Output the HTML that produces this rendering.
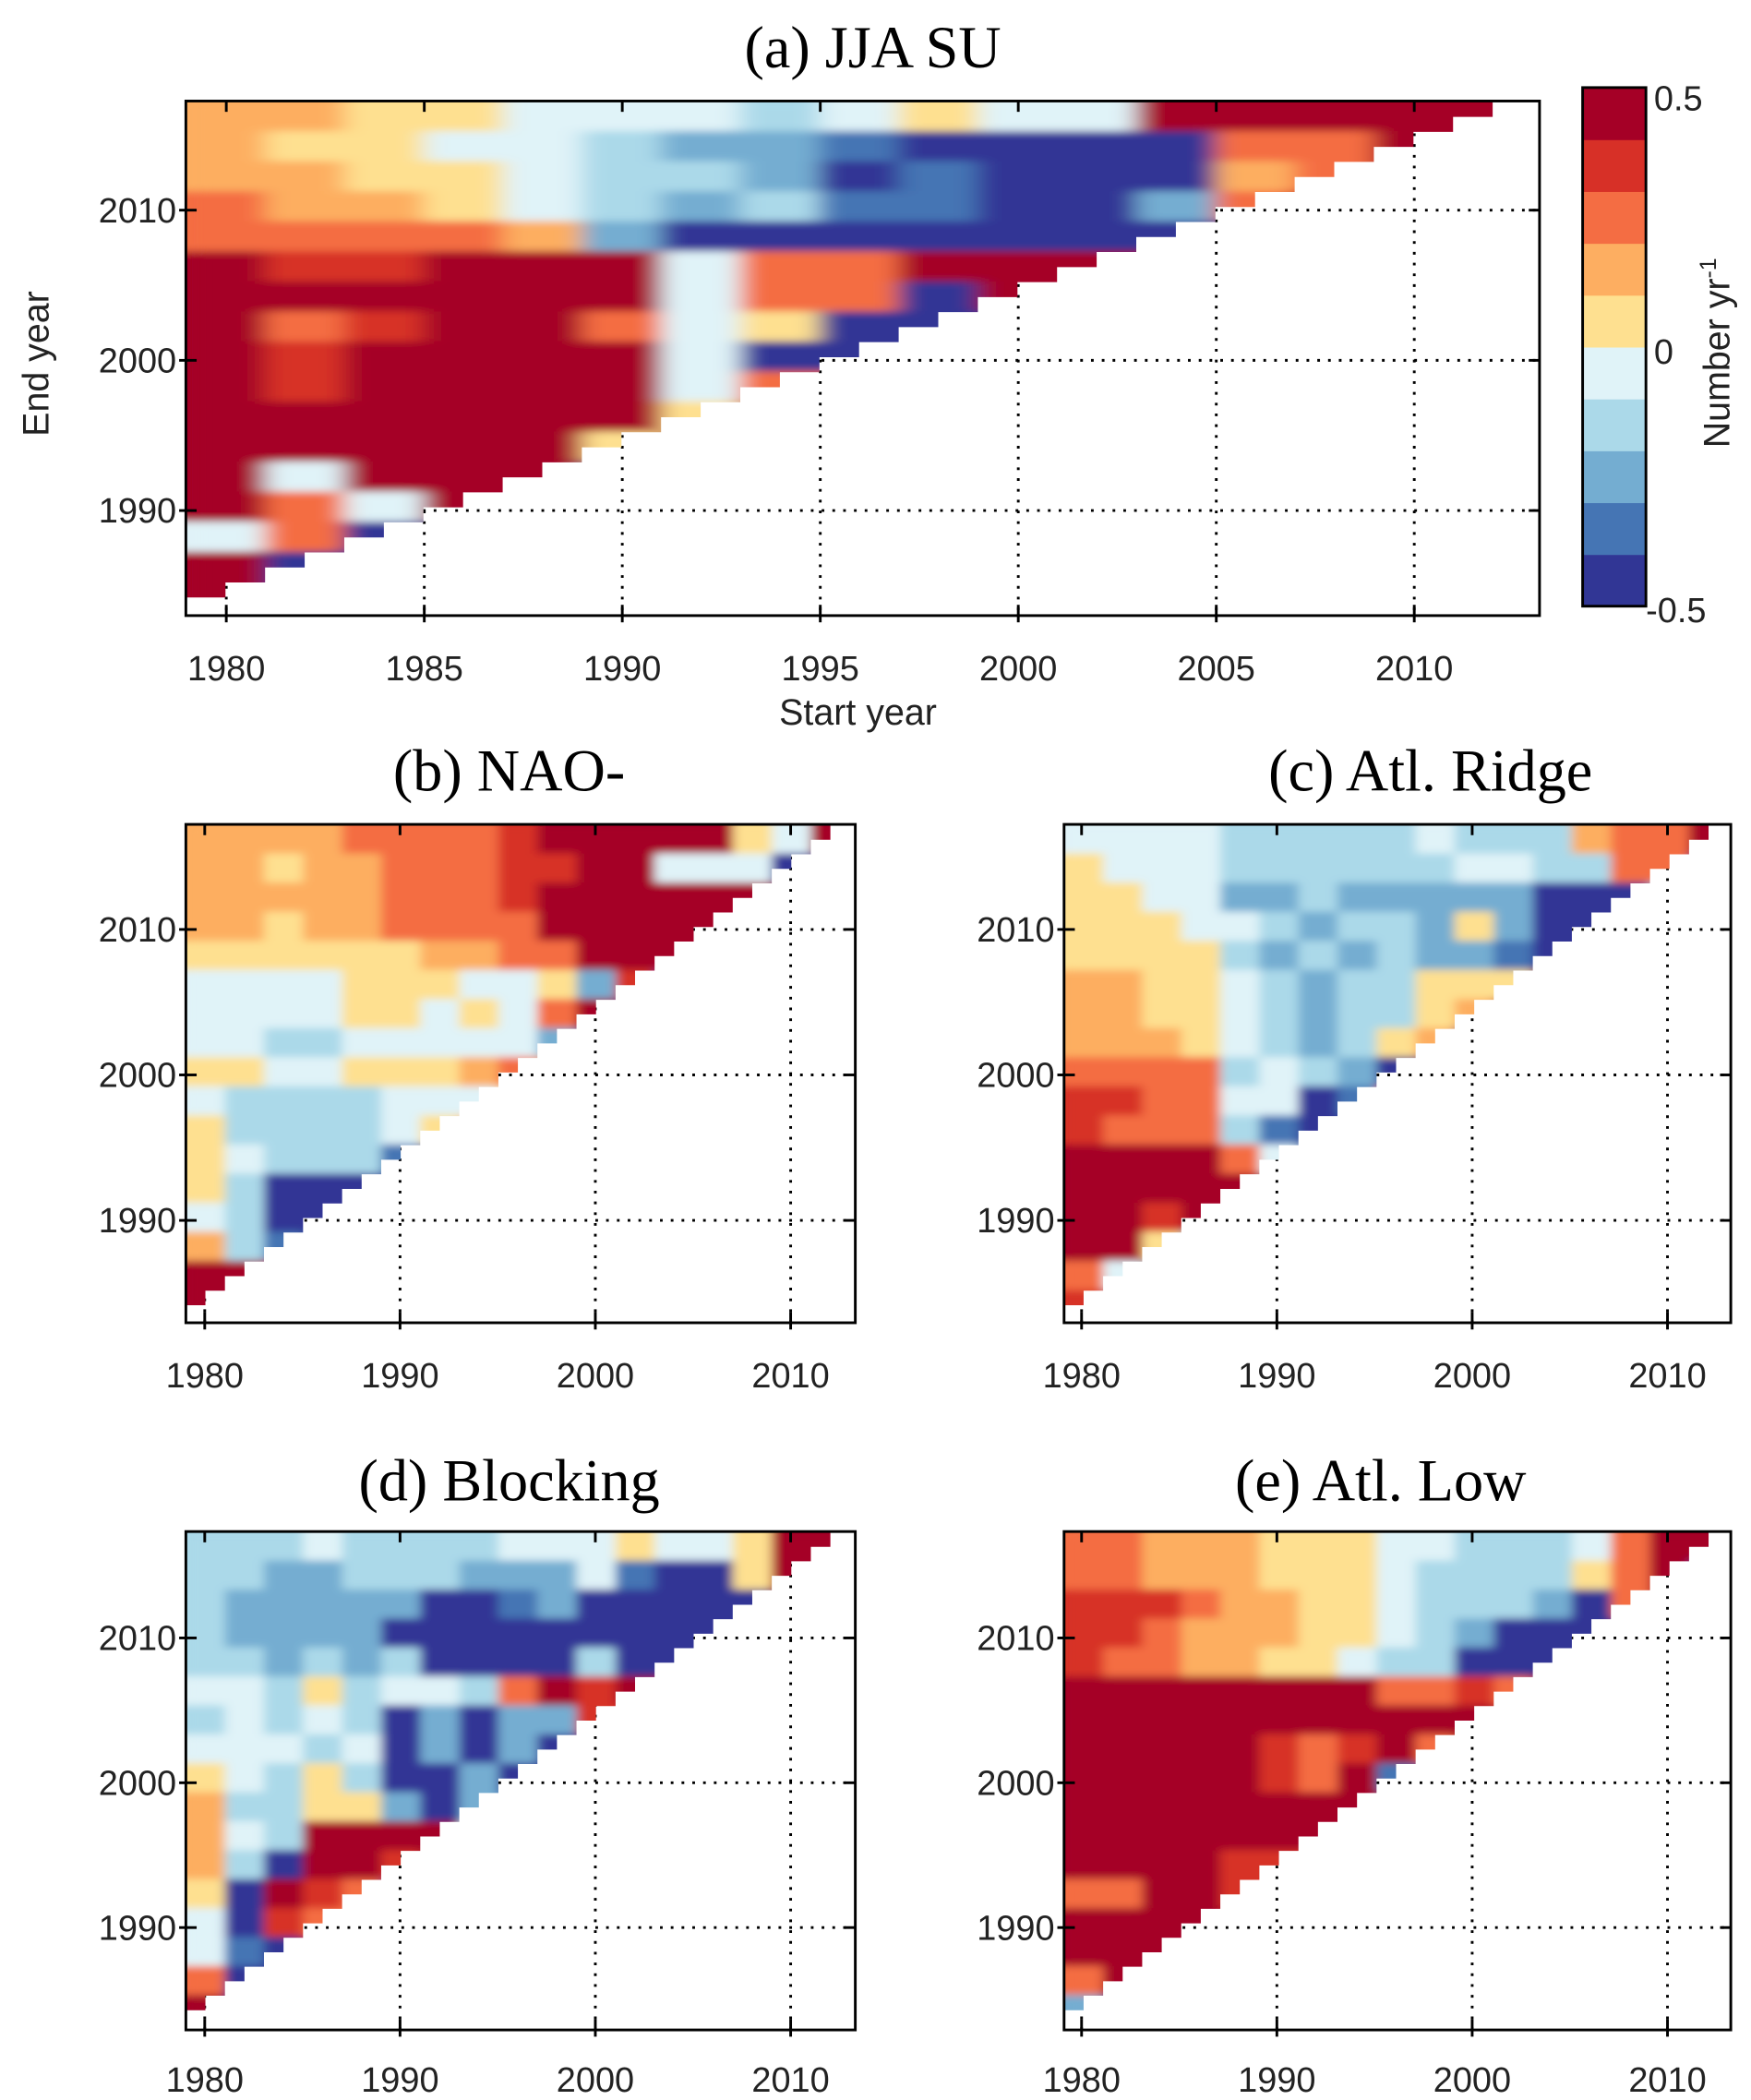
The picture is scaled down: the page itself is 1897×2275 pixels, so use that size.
<!DOCTYPE html>
<html><head><meta charset="utf-8"><style>
html,body{margin:0;padding:0;background:#fff;}
svg{display:block;}
text{font-family:"Liberation Sans",sans-serif;fill:#222;}
.ttl{font-family:"Liberation Serif",serif;font-size:44px;fill:#000;}
</style></head><body>
<svg id="fig" width="1897" height="2275" viewBox="0 0 1300 1559" xmlns="http://www.w3.org/2000/svg">
<defs id="defs">
<filter id="blurA" x="-5%" y="-5%" width="110%" height="110%"><feGaussianBlur stdDeviation="9 3"/><feComponentTransfer><feFuncA type="linear" slope="40"/></feComponentTransfer></filter>
<filter id="blurS" x="-5%" y="-5%" width="110%" height="110%"><feGaussianBlur stdDeviation="4 3"/><feComponentTransfer><feFuncA type="linear" slope="40"/></feComponentTransfer></filter>
</defs>
<text class="ttl" x="648" y="50" text-anchor="middle">(a) JJA SU</text>
<text class="ttl" x="378" y="587" text-anchor="middle">(b) NAO-</text>
<text class="ttl" x="1062" y="587" text-anchor="middle">(c) Atl. Ridge</text>
<text class="ttl" x="378" y="1114" text-anchor="middle">(d) Blocking</text>
<text class="ttl" x="1025" y="1114" text-anchor="middle">(e) Atl. Low</text>
<text x="637" y="538" font-size="27" text-anchor="middle">Start year</text>
<text x="0" y="0" font-size="27" text-anchor="middle" transform="translate(36,270) rotate(-90)">End year</text>
<g id="cbar"></g>
<text x="1228" y="82" font-size="26">0.5</text>
<text x="1228" y="270" font-size="26">0</text>
<text x="1222" y="462" font-size="26">-0.5</text>
<text x="0" y="0" font-size="27" text-anchor="middle" transform="translate(1284,262) rotate(-90)">Number yr<tspan font-size="17" dy="-10">-1</tspan></text>
</svg>
<script>
const colors=["#313695","#4575b4","#74add1","#abd9e9","#e0f3f8","#fee090","#fdae61","#f46d43","#d73027","#a50026"];
const gridA=["66554443454499999","65544322100007799","66554332010006799","76654323110027999","77776200000000000","98899947799999999","99999947709999999","97899745000000","98999940003","9899994779","99999959","999995900","9499900","97499","47009","9000","90"];
const gridB=["66667777899999549","66566777889944400","66666777899999990","66566777799999999","55555566779999","4444555445280","44445545479049","44334444420378","55445556767","4333344450","533334569","54333107","5300008","43000","6310","998","99"];
const gridC=["44443333343336779","54443333334433770","55442232222200039","55544323325200000","55553232322100","6655432335559","665543233569","66654323560","7777343200","8877440170","877731000","99997410","9999993","998999","99530","740","89"];
const gridD=["33343333444544599","33223332224100599","32222200120000099","32222000000000000","33232300003000","44353443798998","34343020228889","444340202009","54353002000","6335520219","64399994","6309989","509870","40877","4109","700","90"];
const gridE=["77666555443334799","77666555433335790","88876655433320799","88766655432000098","87766554330000","9999999977879","999999999999","99999878979","99999879100","9999999998","999999999","99998889","77998830","9999999","99999","7993","20"];
const xTicksA=[1980,1985,1990,1995,2000,2005,2010];
const xTicksS=[1980,1990,2000,2010];
const yTicks=[1990,2000,2010];
const NS="http://www.w3.org/2000/svg";
const svg=document.getElementById('fig');
const defs=document.getElementById('defs');
function el(t,a,p){const e=document.createElementNS(NS,t);for(const k in a)e.setAttribute(k,a[k]);(p||svg).appendChild(e);return e;}
const cb=document.getElementById('cbar');
for(let i=0;i<10;i++){const h=385/10;const r=el('rect',{x:1175,y:65+(9-i)*h,width:47,height:h+0.5,fill:colors[i]},cb);

}
el('rect',{x:1175,y:65,width:47,height:385,fill:'none',stroke:'#000','stroke-width':2},cb);
const panels=[
 {id:'a',grid:gridA,x0:138,x1:1143,y0:75,y1:457,xr:168,xp:29.4,yr:156,yp:11.15,xt:xTicksA,lx:505,f:'blurA'},
 {id:'b',grid:gridB,x0:138,x1:635,y0:612,y1:982,xr:152,xp:14.5,yr:690,yp:10.8,xt:xTicksS,lx:1030,f:'blurS'},
 {id:'c',grid:gridC,x0:790,x1:1285,y0:612,y1:982,xr:803,xp:14.5,yr:690,yp:10.8,xt:xTicksS,lx:1030,f:'blurS'},
 {id:'d',grid:gridD,x0:138,x1:635,y0:1137,y1:1507,xr:152,xp:14.5,yr:1216,yp:10.75,xt:xTicksS,lx:1553,f:'blurS'},
 {id:'e',grid:gridE,x0:790,x1:1285,y0:1137,y1:1507,xr:803,xp:14.5,yr:1216,yp:10.75,xt:xTicksS,lx:1553,f:'blurS'}];
panels.forEach(p=>{
 const g=el('g',{});
 
 
 const X=y=>p.xr+(y-1980)*p.xp, Y=y=>p.yr-(y-2010)*p.yp;
 el('rect',{x:p.x0,y:p.y0,width:p.x1-p.x0,height:p.y1-p.y0,fill:'#fff'},g);
 p.xt.forEach(t=>{const l=el('line',{x1:X(t),x2:X(t),y1:p.y0,y2:p.y1,stroke:'#000','stroke-width':2,'stroke-dasharray':'2 6'},g);
  
  });
 yTicks.forEach(t=>{const l=el('line',{x1:p.x0,x2:p.x1,y1:Y(t),y2:Y(t),stroke:'#000','stroke-width':2,'stroke-dasharray':'2 6'},g);
  
  });
 const cw=p.xp, ch=p.yp;
 const cp=el('clipPath',{id:'clip-'+p.id},defs);
 for(let j=0;j<33;j++){el('rect',{x:p.x0,y:p.y0+j*ch,width:(33-j)*cw,height:ch+0.6},cp);}
 const outer=el('g',{'clip-path':'url(#clip-'+p.id+')'},g);
 const inner=el('g',{filter:'url(#'+p.f+')'},outer);
 for(let j=0;j<34;j++){const n=Math.min(34-j,33)+1;const row=p.grid[Math.min(Math.floor(j/2),p.grid.length-1)];
  for(let i=0;i<n;i++){const ci=Math.floor(i/2);const v=+row[Math.min(ci,row.length-1)];
   const r=el('rect',{x:p.x0+i*cw,y:p.y0+j*ch,width:cw+0.6,height:ch+0.6,fill:colors[v]},inner);
   
   }}
 el('rect',{x:p.x0,y:p.y0,width:p.x1-p.x0,height:p.y1-p.y0,fill:'none',stroke:'#000','stroke-width':2},g);
 p.xt.forEach(t=>{el('line',{x1:X(t),x2:X(t),y1:p.y1,y2:p.y1-8,stroke:'#000','stroke-width':2},g);
  el('line',{x1:X(t),x2:X(t),y1:p.y0,y2:p.y0+8,stroke:'#000','stroke-width':2},g);
  el('line',{x1:X(t),x2:X(t),y1:p.y1,y2:p.y1+5,stroke:'#000','stroke-width':2},g);
  const tx=el('text',{x:X(t),y:p.lx,'font-size':26,'text-anchor':'middle'},g);tx.textContent=t;
  
  });
 yTicks.forEach(t=>{el('line',{x1:p.x0,x2:p.x0+8,y1:Y(t),y2:Y(t),stroke:'#000','stroke-width':2},g);
  el('line',{x1:p.x1,x2:p.x1-8,y1:Y(t),y2:Y(t),stroke:'#000','stroke-width':2},g);
  el('line',{x1:p.x0,x2:p.x0-5,y1:Y(t),y2:Y(t),stroke:'#000','stroke-width':2},g);
  const tx=el('text',{x:p.x0-7,y:Y(t)+9,'font-size':26,'text-anchor':'end'},g);tx.textContent=t;
  
  });
});
</script>
</body></html>
